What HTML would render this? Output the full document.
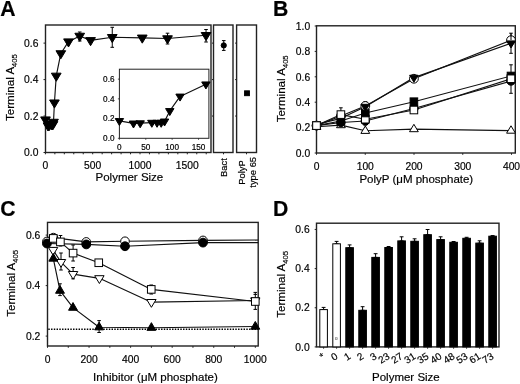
<!DOCTYPE html>
<html><head><meta charset="utf-8"><style>
html,body{margin:0;padding:0;background:#fff;}
svg{display:block;font-family:"Liberation Sans", sans-serif;filter:grayscale(1);}
text{stroke:#000;stroke-width:0.18px;paint-order:stroke;}
</style></head><body>
<svg width="520" height="384" viewBox="0 0 520 384">
<rect width="520" height="384" fill="#fff"/>
<text transform="translate(0.2,15.6) scale(1.03,1.05)" font-size="20.6" font-weight="bold" fill="#000">A</text>
<rect x="45.5" y="25" width="165.5" height="127.5" fill="none" stroke="#222" stroke-width="1.4"/>
<polyline fill="none" stroke="#111" stroke-width="1.15" stroke-linejoin="round" points="45.5,119.66 48,125.68 49.18,125.31 51.25,124.4 52.18,124.4 52.91,124.4 53.5,122.03 54.43,102.71 56.25,75.91 60.83,53.49 68.5,41.64 79.72,35.99 90.57,40.36 112.26,37.26 142.27,37.81 167.52,38.54 206.04,35.26"/>
<line x1="112.26" y1="27.3" x2="112.26" y2="47.3" stroke="#000" stroke-width="1" />
<line x1="110.46" y1="27.3" x2="114.06" y2="27.3" stroke="#000" stroke-width="1" />
<line x1="110.46" y1="47.3" x2="114.06" y2="47.3" stroke="#000" stroke-width="1" />
<line x1="167.52" y1="33.2" x2="167.52" y2="44" stroke="#000" stroke-width="1" />
<line x1="165.72" y1="33.2" x2="169.32" y2="33.2" stroke="#000" stroke-width="1" />
<line x1="165.72" y1="44" x2="169.32" y2="44" stroke="#000" stroke-width="1" />
<line x1="206.04" y1="29.5" x2="206.04" y2="42" stroke="#000" stroke-width="1" />
<line x1="204.24" y1="29.5" x2="207.84" y2="29.5" stroke="#000" stroke-width="1" />
<line x1="204.24" y1="42" x2="207.84" y2="42" stroke="#000" stroke-width="1" />
<line x1="79.72" y1="32" x2="79.72" y2="41" stroke="#000" stroke-width="1" />
<line x1="77.92" y1="32" x2="81.52" y2="32" stroke="#000" stroke-width="1" />
<line x1="77.92" y1="41" x2="81.52" y2="41" stroke="#000" stroke-width="1" />
<polygon points="40.65,116.91 50.35,116.91 45.5,125.01" fill="#000" stroke="#000" stroke-width="1" stroke-linejoin="round"/>
<polygon points="43.15,122.93 52.85,122.93 48,131.03" fill="#000" stroke="#000" stroke-width="1" stroke-linejoin="round"/>
<polygon points="44.33,122.56 54.03,122.56 49.18,130.66" fill="#000" stroke="#000" stroke-width="1" stroke-linejoin="round"/>
<polygon points="46.4,121.65 56.1,121.65 51.25,129.75" fill="#000" stroke="#000" stroke-width="1" stroke-linejoin="round"/>
<polygon points="47.33,121.65 57.03,121.65 52.18,129.75" fill="#000" stroke="#000" stroke-width="1" stroke-linejoin="round"/>
<polygon points="48.06,121.65 57.76,121.65 52.91,129.75" fill="#000" stroke="#000" stroke-width="1" stroke-linejoin="round"/>
<polygon points="48.65,119.28 58.35,119.28 53.5,127.38" fill="#000" stroke="#000" stroke-width="1" stroke-linejoin="round"/>
<polygon points="49.58,99.96 59.28,99.96 54.43,108.06" fill="#000" stroke="#000" stroke-width="1" stroke-linejoin="round"/>
<polygon points="51.4,73.16 61.1,73.16 56.25,81.26" fill="#000" stroke="#000" stroke-width="1" stroke-linejoin="round"/>
<polygon points="55.98,50.74 65.68,50.74 60.83,58.84" fill="#000" stroke="#000" stroke-width="1" stroke-linejoin="round"/>
<polygon points="63.65,38.89 73.35,38.89 68.5,46.99" fill="#000" stroke="#000" stroke-width="1" stroke-linejoin="round"/>
<polygon points="74.87,33.24 84.57,33.24 79.72,41.34" fill="#000" stroke="#000" stroke-width="1" stroke-linejoin="round"/>
<polygon points="85.72,37.61 95.42,37.61 90.57,45.71" fill="#000" stroke="#000" stroke-width="1" stroke-linejoin="round"/>
<polygon points="107.41,34.51 117.11,34.51 112.26,42.61" fill="#000" stroke="#000" stroke-width="1" stroke-linejoin="round"/>
<polygon points="137.42,35.06 147.12,35.06 142.27,43.16" fill="#000" stroke="#000" stroke-width="1" stroke-linejoin="round"/>
<polygon points="162.67,35.79 172.37,35.79 167.52,43.89" fill="#000" stroke="#000" stroke-width="1" stroke-linejoin="round"/>
<polygon points="201.19,32.51 210.89,32.51 206.04,40.61" fill="#000" stroke="#000" stroke-width="1" stroke-linejoin="round"/>
<line x1="43.5" y1="152.5" x2="45.5" y2="152.5" stroke="#222" stroke-width="1" />
<text x="38.4" y="156.2" font-size="10.3" text-anchor="end" font-weight="normal" fill="#000" >0.0</text>
<line x1="43.5" y1="116.04" x2="45.5" y2="116.04" stroke="#222" stroke-width="1" />
<text x="38.4" y="119.74" font-size="10.3" text-anchor="end" font-weight="normal" fill="#000" >0.2</text>
<line x1="43.5" y1="79.58" x2="45.5" y2="79.58" stroke="#222" stroke-width="1" />
<text x="38.4" y="83.28" font-size="10.3" text-anchor="end" font-weight="normal" fill="#000" >0.4</text>
<line x1="43.5" y1="43.12" x2="45.5" y2="43.12" stroke="#222" stroke-width="1" />
<text x="38.4" y="46.82" font-size="10.3" text-anchor="end" font-weight="normal" fill="#000" >0.6</text>
<line x1="45.4" y1="152.5" x2="45.4" y2="154.3" stroke="#222" stroke-width="1" />
<line x1="54.86" y1="152.5" x2="54.86" y2="154.3" stroke="#222" stroke-width="1" />
<line x1="64.32" y1="152.5" x2="64.32" y2="154.3" stroke="#222" stroke-width="1" />
<line x1="73.78" y1="152.5" x2="73.78" y2="154.3" stroke="#222" stroke-width="1" />
<line x1="83.24" y1="152.5" x2="83.24" y2="154.3" stroke="#222" stroke-width="1" />
<line x1="92.7" y1="152.5" x2="92.7" y2="154.3" stroke="#222" stroke-width="1" />
<line x1="102.16" y1="152.5" x2="102.16" y2="154.3" stroke="#222" stroke-width="1" />
<line x1="111.62" y1="152.5" x2="111.62" y2="154.3" stroke="#222" stroke-width="1" />
<line x1="121.08" y1="152.5" x2="121.08" y2="154.3" stroke="#222" stroke-width="1" />
<line x1="130.54" y1="152.5" x2="130.54" y2="154.3" stroke="#222" stroke-width="1" />
<line x1="140" y1="152.5" x2="140" y2="154.3" stroke="#222" stroke-width="1" />
<line x1="149.46" y1="152.5" x2="149.46" y2="154.3" stroke="#222" stroke-width="1" />
<line x1="158.92" y1="152.5" x2="158.92" y2="154.3" stroke="#222" stroke-width="1" />
<line x1="168.38" y1="152.5" x2="168.38" y2="154.3" stroke="#222" stroke-width="1" />
<line x1="177.84" y1="152.5" x2="177.84" y2="154.3" stroke="#222" stroke-width="1" />
<line x1="187.3" y1="152.5" x2="187.3" y2="154.3" stroke="#222" stroke-width="1" />
<line x1="196.76" y1="152.5" x2="196.76" y2="154.3" stroke="#222" stroke-width="1" />
<line x1="206.22" y1="152.5" x2="206.22" y2="154.3" stroke="#222" stroke-width="1" />
<text x="45.4" y="169.2" font-size="10.3" text-anchor="middle" font-weight="normal" fill="#000" >0</text>
<text x="92.7" y="169.2" font-size="10.3" text-anchor="middle" font-weight="normal" fill="#000" >500</text>
<text x="140" y="169.2" font-size="10.3" text-anchor="middle" font-weight="normal" fill="#000" >1000</text>
<text x="187.3" y="169.2" font-size="10.3" text-anchor="middle" font-weight="normal" fill="#000" >1500</text>
<text x="129.4" y="181.3" font-size="11.5" text-anchor="middle" font-weight="normal" fill="#000" >Polymer Size</text>
<text transform="translate(13.5,87.6) rotate(-90)" font-size="11.6" text-anchor="middle" fill="#000">Terminal A<tspan font-size="7.6" dy="3.4">405</tspan></text>
<rect x="119.4" y="69.2" width="89.5" height="69.1" fill="#fff" stroke="#222" stroke-width="1"/>
<polyline fill="none" stroke="#111" stroke-width="1.15" stroke-linejoin="round" points="119.4,120.88 133.48,123.35 140.18,123.15 151.84,122.66 157.06,122.66 161.18,122.66 164.55,121.37 169.78,110.92 180.06,96.43 205.91,84.3"/>
<polygon points="115.2,118.53 123.6,118.53 119.4,125.53" fill="#000" stroke="#000" stroke-width="1" stroke-linejoin="round"/>
<polygon points="129.28,121 137.68,121 133.48,128" fill="#000" stroke="#000" stroke-width="1" stroke-linejoin="round"/>
<polygon points="135.98,120.8 144.38,120.8 140.18,127.8" fill="#000" stroke="#000" stroke-width="1" stroke-linejoin="round"/>
<polygon points="147.64,120.31 156.04,120.31 151.84,127.31" fill="#000" stroke="#000" stroke-width="1" stroke-linejoin="round"/>
<polygon points="152.86,120.31 161.26,120.31 157.06,127.31" fill="#000" stroke="#000" stroke-width="1" stroke-linejoin="round"/>
<polygon points="156.98,120.31 165.38,120.31 161.18,127.31" fill="#000" stroke="#000" stroke-width="1" stroke-linejoin="round"/>
<polygon points="160.35,119.02 168.75,119.02 164.55,126.02" fill="#000" stroke="#000" stroke-width="1" stroke-linejoin="round"/>
<polygon points="165.58,108.57 173.98,108.57 169.78,115.57" fill="#000" stroke="#000" stroke-width="1" stroke-linejoin="round"/>
<polygon points="175.86,94.08 184.26,94.08 180.06,101.08" fill="#000" stroke="#000" stroke-width="1" stroke-linejoin="round"/>
<polygon points="201.71,81.95 210.11,81.95 205.91,88.95" fill="#000" stroke="#000" stroke-width="1" stroke-linejoin="round"/>
<line x1="117.9" y1="138.3" x2="119.4" y2="138.3" stroke="#222" stroke-width="0.8" />
<text x="114.5" y="141.2" font-size="8.2" text-anchor="end" font-weight="normal" fill="#000" >0.0</text>
<line x1="117.9" y1="118.58" x2="119.4" y2="118.58" stroke="#222" stroke-width="0.8" />
<text x="114.5" y="121.48" font-size="8.2" text-anchor="end" font-weight="normal" fill="#000" >0.2</text>
<line x1="117.9" y1="98.86" x2="119.4" y2="98.86" stroke="#222" stroke-width="0.8" />
<text x="114.5" y="101.76" font-size="8.2" text-anchor="end" font-weight="normal" fill="#000" >0.4</text>
<line x1="117.9" y1="79.14" x2="119.4" y2="79.14" stroke="#222" stroke-width="0.8" />
<text x="114.5" y="82.04" font-size="8.2" text-anchor="end" font-weight="normal" fill="#000" >0.6</text>
<line x1="119.4" y1="138.3" x2="119.4" y2="139.8" stroke="#222" stroke-width="0.8" />
<text x="119.4" y="150.2" font-size="8.2" text-anchor="middle" font-weight="normal" fill="#000" >0</text>
<line x1="145.78" y1="138.3" x2="145.78" y2="139.8" stroke="#222" stroke-width="0.8" />
<text x="145.78" y="150.2" font-size="8.2" text-anchor="middle" font-weight="normal" fill="#000" >50</text>
<line x1="172.15" y1="138.3" x2="172.15" y2="139.8" stroke="#222" stroke-width="0.8" />
<text x="172.15" y="150.2" font-size="8.2" text-anchor="middle" font-weight="normal" fill="#000" >100</text>
<line x1="198.53" y1="138.3" x2="198.53" y2="139.8" stroke="#222" stroke-width="0.8" />
<text x="198.53" y="150.2" font-size="8.2" text-anchor="middle" font-weight="normal" fill="#000" >150</text>
<rect x="213.5" y="25" width="19.5" height="127.5" fill="none" stroke="#222" stroke-width="1.4"/>
<rect x="236.6" y="25" width="19.9" height="127.5" fill="none" stroke="#222" stroke-width="1.4"/>
<line x1="212" y1="116.04" x2="213.5" y2="116.04" stroke="#222" stroke-width="1" />
<line x1="235.1" y1="116.04" x2="236.6" y2="116.04" stroke="#222" stroke-width="1" />
<line x1="212" y1="79.58" x2="213.5" y2="79.58" stroke="#222" stroke-width="1" />
<line x1="235.1" y1="79.58" x2="236.6" y2="79.58" stroke="#222" stroke-width="1" />
<line x1="212" y1="43.12" x2="213.5" y2="43.12" stroke="#222" stroke-width="1" />
<line x1="235.1" y1="43.12" x2="236.6" y2="43.12" stroke="#222" stroke-width="1" />
<line x1="223.5" y1="152.5" x2="223.5" y2="154.3" stroke="#222" stroke-width="1" />
<line x1="246.5" y1="152.5" x2="246.5" y2="154.3" stroke="#222" stroke-width="1" />
<line x1="223.75" y1="40.6" x2="223.75" y2="50.4" stroke="#000" stroke-width="1" />
<line x1="221.95" y1="40.6" x2="225.55" y2="40.6" stroke="#000" stroke-width="1" />
<line x1="221.95" y1="50.4" x2="225.55" y2="50.4" stroke="#000" stroke-width="1" />
<circle cx="223.75" cy="45.4" r="2.6" fill="#000" stroke="#000" stroke-width="1"/>
<rect x="244.6" y="90.85" width="4.8" height="4.8" fill="#000" stroke="#000" stroke-width="1"/>
<text transform="translate(227.2,158.2) rotate(-90)" font-size="9.4" text-anchor="end" fill="#000">Bact</text>
<text transform="translate(245.3,172.5) rotate(-90)" font-size="9.4" text-anchor="middle" fill="#000">PolyP</text>
<text transform="translate(255.9,172.3) rotate(-90)" font-size="9.4" text-anchor="middle" fill="#000">type 65</text>
<text transform="translate(272.9,15.6) scale(1.03,1.05)" font-size="20.6" font-weight="bold" fill="#000">B</text>
<rect x="316.5" y="25.8" width="198.8" height="127.2" fill="none" stroke="#222" stroke-width="1.4"/>
<line x1="314.7" y1="153" x2="316.5" y2="153" stroke="#222" stroke-width="1" />
<line x1="314.7" y1="127.6" x2="316.5" y2="127.6" stroke="#222" stroke-width="1" />
<line x1="314.7" y1="102.2" x2="316.5" y2="102.2" stroke="#222" stroke-width="1" />
<line x1="314.7" y1="76.8" x2="316.5" y2="76.8" stroke="#222" stroke-width="1" />
<line x1="314.7" y1="51.4" x2="316.5" y2="51.4" stroke="#222" stroke-width="1" />
<line x1="314.7" y1="26" x2="316.5" y2="26" stroke="#222" stroke-width="1" />
<polyline fill="none" stroke="#111" stroke-width="1.15" stroke-linejoin="round" points="316.5,126.7 340.9,125.1 365.3,130.8 413.9,129.1 511,130.6"/>
<polyline fill="none" stroke="#111" stroke-width="1.15" stroke-linejoin="round" points="316.5,125.6 340.9,122.5 365.3,121 413.9,108.5 511,81"/>
<polyline fill="none" stroke="#111" stroke-width="1.15" stroke-linejoin="round" points="316.5,125.6 340.9,114.6 365.3,119.2 413.9,110 511,78.75"/>
<polyline fill="none" stroke="#111" stroke-width="1.15" stroke-linejoin="round" points="316.5,125.6 340.9,121 365.3,113 413.9,101.7 511,76"/>
<polyline fill="none" stroke="#111" stroke-width="1.15" stroke-linejoin="round" points="316.5,124.45 340.9,118.35 365.3,106.65 413.9,77.6 511,43.25"/>
<polyline fill="none" stroke="#111" stroke-width="1.15" stroke-linejoin="round" points="316.5,125.6 340.9,116 365.3,106 413.9,78.75 511,40.2"/>
<line x1="340.9" y1="107.8" x2="340.9" y2="126.3" stroke="#000" stroke-width="1" />
<line x1="339.1" y1="107.8" x2="342.7" y2="107.8" stroke="#000" stroke-width="1" />
<line x1="339.1" y1="126.3" x2="342.7" y2="126.3" stroke="#000" stroke-width="1" />
<line x1="511" y1="33.2" x2="511" y2="53.3" stroke="#000" stroke-width="1" />
<line x1="509.2" y1="33.2" x2="512.8" y2="33.2" stroke="#000" stroke-width="1" />
<line x1="509.2" y1="53.3" x2="512.8" y2="53.3" stroke="#000" stroke-width="1" />
<line x1="511" y1="64.8" x2="511" y2="93.3" stroke="#000" stroke-width="1" />
<line x1="509.2" y1="64.8" x2="512.8" y2="64.8" stroke="#000" stroke-width="1" />
<line x1="509.2" y1="93.3" x2="512.8" y2="93.3" stroke="#000" stroke-width="1" />
<line x1="365.3" y1="101.6" x2="365.3" y2="125" stroke="#000" stroke-width="1" />
<line x1="363.5" y1="101.6" x2="367.1" y2="101.6" stroke="#000" stroke-width="1" />
<line x1="363.5" y1="125" x2="367.1" y2="125" stroke="#000" stroke-width="1" />
<polygon points="312.1,129.3 320.9,129.3 316.5,121.9" fill="#fff" stroke="#000" stroke-width="1" stroke-linejoin="round"/>
<circle cx="316.5" cy="125.6" r="4.2" fill="#000" stroke="#000" stroke-width="1"/>
<rect x="312.7" y="121.8" width="7.6" height="7.6" fill="#000" stroke="#000" stroke-width="1"/>
<polygon points="312.2,122.1 320.8,122.1 316.5,129.1" fill="#000" stroke="#000" stroke-width="1" stroke-linejoin="round"/>
<circle cx="316.5" cy="125.6" r="4.4" fill="#fff" stroke="#000" stroke-width="1"/>
<rect x="312.7" y="121.8" width="7.6" height="7.6" fill="#fff" stroke="#000" stroke-width="1"/>
<polygon points="336.5,127.7 345.3,127.7 340.9,120.3" fill="#fff" stroke="#000" stroke-width="1" stroke-linejoin="round"/>
<circle cx="340.9" cy="116" r="4.4" fill="#fff" stroke="#000" stroke-width="1"/>
<circle cx="340.9" cy="122.5" r="4.2" fill="#000" stroke="#000" stroke-width="1"/>
<polygon points="336.6,116 345.2,116 340.9,123" fill="#000" stroke="#000" stroke-width="1" stroke-linejoin="round"/>
<rect x="337.1" y="117.2" width="7.6" height="7.6" fill="#000" stroke="#000" stroke-width="1"/>
<rect x="337.1" y="110.8" width="7.6" height="7.6" fill="#fff" stroke="#000" stroke-width="1"/>
<circle cx="365.3" cy="121" r="4.2" fill="#000" stroke="#000" stroke-width="1"/>
<rect x="361.5" y="115.4" width="7.6" height="7.6" fill="#fff" stroke="#000" stroke-width="1"/>
<rect x="361.5" y="109.2" width="7.6" height="7.6" fill="#000" stroke="#000" stroke-width="1"/>
<circle cx="365.3" cy="106" r="4.4" fill="#fff" stroke="#000" stroke-width="1"/>
<polygon points="361,104.3 369.6,104.3 365.3,111.3" fill="#000" stroke="#000" stroke-width="1" stroke-linejoin="round"/>
<polygon points="360.9,133.4 369.7,133.4 365.3,126" fill="#fff" stroke="#000" stroke-width="1" stroke-linejoin="round"/>
<circle cx="413.9" cy="108.5" r="4.2" fill="#000" stroke="#000" stroke-width="1"/>
<rect x="410.1" y="106.2" width="7.6" height="7.6" fill="#fff" stroke="#000" stroke-width="1"/>
<rect x="410.1" y="97.9" width="7.6" height="7.6" fill="#000" stroke="#000" stroke-width="1"/>
<circle cx="413.9" cy="78.75" r="4.4" fill="#fff" stroke="#000" stroke-width="1"/>
<polygon points="409.6,75.25 418.2,75.25 413.9,82.25" fill="#000" stroke="#000" stroke-width="1" stroke-linejoin="round"/>
<polygon points="409.5,131.7 418.3,131.7 413.9,124.3" fill="#fff" stroke="#000" stroke-width="1" stroke-linejoin="round"/>
<circle cx="511" cy="81" r="4.2" fill="#000" stroke="#000" stroke-width="1"/>
<rect x="507.2" y="74.95" width="7.6" height="7.6" fill="#fff" stroke="#000" stroke-width="1"/>
<rect x="507.2" y="72.2" width="7.6" height="7.6" fill="#000" stroke="#000" stroke-width="1"/>
<circle cx="511" cy="40.2" r="4.4" fill="#fff" stroke="#000" stroke-width="1"/>
<polygon points="506.7,40.9 515.3,40.9 511,47.9" fill="#000" stroke="#000" stroke-width="1" stroke-linejoin="round"/>
<polygon points="506.6,133.2 515.4,133.2 511,125.8" fill="#fff" stroke="#000" stroke-width="1" stroke-linejoin="round"/>
<rect x="507.2" y="74.95" width="7.6" height="7.6" fill="#fff" stroke="#000" stroke-width="1"/>
<line x1="511" y1="33.2" x2="511" y2="40" stroke="#000" stroke-width="1" />
<text x="310.2" y="156.7" font-size="10.3" text-anchor="end" font-weight="normal" fill="#000" >0.0</text>
<text x="310.2" y="131.3" font-size="10.3" text-anchor="end" font-weight="normal" fill="#000" >0.2</text>
<text x="310.2" y="105.9" font-size="10.3" text-anchor="end" font-weight="normal" fill="#000" >0.4</text>
<text x="310.2" y="80.5" font-size="10.3" text-anchor="end" font-weight="normal" fill="#000" >0.6</text>
<text x="310.2" y="55.1" font-size="10.3" text-anchor="end" font-weight="normal" fill="#000" >0.8</text>
<text x="310.2" y="29.7" font-size="10.3" text-anchor="end" font-weight="normal" fill="#000" >1.0</text>
<line x1="316.5" y1="153" x2="316.5" y2="154.8" stroke="#222" stroke-width="1" />
<text x="316.5" y="169.6" font-size="10.3" text-anchor="middle" font-weight="normal" fill="#000" >0</text>
<line x1="365.25" y1="153" x2="365.25" y2="154.8" stroke="#222" stroke-width="1" />
<text x="365.25" y="169.6" font-size="10.3" text-anchor="middle" font-weight="normal" fill="#000" >100</text>
<line x1="414" y1="153" x2="414" y2="154.8" stroke="#222" stroke-width="1" />
<text x="414" y="169.6" font-size="10.3" text-anchor="middle" font-weight="normal" fill="#000" >200</text>
<line x1="462.75" y1="153" x2="462.75" y2="154.8" stroke="#222" stroke-width="1" />
<text x="462.75" y="169.6" font-size="10.3" text-anchor="middle" font-weight="normal" fill="#000" >300</text>
<line x1="511.5" y1="153" x2="511.5" y2="154.8" stroke="#222" stroke-width="1" />
<text x="511.5" y="169.6" font-size="10.3" text-anchor="middle" font-weight="normal" fill="#000" >400</text>
<text x="416.3" y="183.3" font-size="11.5" text-anchor="middle" font-weight="normal" fill="#000" >PolyP (&#956;M phosphate)</text>
<text transform="translate(285,88.8) rotate(-90)" font-size="11.6" text-anchor="middle" fill="#000">Terminal A<tspan font-size="7.6" dy="3.4">405</tspan></text>
<text transform="translate(0.2,216.3) scale(1.03,1.05)" font-size="20.6" font-weight="bold" fill="#000">C</text>
<rect x="47.5" y="222.4" width="210.7" height="123.6" fill="none" stroke="#222" stroke-width="1.4"/>
<line x1="48.3" y1="329.2" x2="258.2" y2="329.2" stroke="#000" stroke-width="1.6" stroke-dasharray="1.45,1.3"/>
<clipPath id="cclip"><rect x="47.5" y="222.4" width="210.7" height="123.6"/></clipPath>
<g clip-path="url(#cclip)">
<polyline fill="none" stroke="#111" stroke-width="1.15" stroke-linejoin="round" points="46.9,241.5 53.3,237.6 86.25,241.9 125,241.25 203,240.4 262,240"/>
<polyline fill="none" stroke="#111" stroke-width="1.15" stroke-linejoin="round" points="46.9,243.5 86.25,244.4 125,246.25 203,242.6 262,242.6"/>
<polyline fill="none" stroke="#111" stroke-width="1.15" stroke-linejoin="round" points="53.3,238.4 60.4,241.9 73.1,253.1 98.75,262.75 151.25,289.4 255.3,301.5"/>
<polyline fill="none" stroke="#111" stroke-width="1.15" stroke-linejoin="round" points="53.1,250.05 61,262.15 73.1,274.15 99.4,278.35 151.4,302.15 255.3,300.55"/>
<polyline fill="none" stroke="#111" stroke-width="1.15" stroke-linejoin="round" points="53.3,258.55 60,290.65 73,307.65 99.1,327.25 151.4,327.75 255.3,326.55"/>
</g>
<line x1="60.5" y1="235.5" x2="60.5" y2="246" stroke="#000" stroke-width="1" />
<line x1="58.7" y1="235.5" x2="62.3" y2="235.5" stroke="#000" stroke-width="1" />
<line x1="58.7" y1="246" x2="62.3" y2="246" stroke="#000" stroke-width="1" />
<line x1="61" y1="253" x2="61" y2="270" stroke="#000" stroke-width="1" />
<line x1="59.2" y1="253" x2="62.8" y2="253" stroke="#000" stroke-width="1" />
<line x1="59.2" y1="270" x2="62.8" y2="270" stroke="#000" stroke-width="1" />
<line x1="73.1" y1="245" x2="73.1" y2="261" stroke="#000" stroke-width="1" />
<line x1="71.3" y1="245" x2="74.9" y2="245" stroke="#000" stroke-width="1" />
<line x1="71.3" y1="261" x2="74.9" y2="261" stroke="#000" stroke-width="1" />
<line x1="73.1" y1="267.5" x2="73.1" y2="278.8" stroke="#000" stroke-width="1" />
<line x1="71.3" y1="267.5" x2="74.9" y2="267.5" stroke="#000" stroke-width="1" />
<line x1="71.3" y1="278.8" x2="74.9" y2="278.8" stroke="#000" stroke-width="1" />
<line x1="60" y1="283.8" x2="60" y2="295.6" stroke="#000" stroke-width="1" />
<line x1="58.2" y1="283.8" x2="61.8" y2="283.8" stroke="#000" stroke-width="1" />
<line x1="58.2" y1="295.6" x2="61.8" y2="295.6" stroke="#000" stroke-width="1" />
<line x1="99.1" y1="320.6" x2="99.1" y2="332.5" stroke="#000" stroke-width="1" />
<line x1="97.3" y1="320.6" x2="100.9" y2="320.6" stroke="#000" stroke-width="1" />
<line x1="97.3" y1="332.5" x2="100.9" y2="332.5" stroke="#000" stroke-width="1" />
<line x1="151.25" y1="285" x2="151.25" y2="294" stroke="#000" stroke-width="1" />
<line x1="149.45" y1="285" x2="153.05" y2="285" stroke="#000" stroke-width="1" />
<line x1="149.45" y1="294" x2="153.05" y2="294" stroke="#000" stroke-width="1" />
<line x1="255.3" y1="292.4" x2="255.3" y2="309.4" stroke="#000" stroke-width="1" />
<line x1="253.5" y1="292.4" x2="257.1" y2="292.4" stroke="#000" stroke-width="1" />
<line x1="253.5" y1="309.4" x2="257.1" y2="309.4" stroke="#000" stroke-width="1" />
<line x1="253.5" y1="294.4" x2="257.1" y2="294.4" stroke="#000" stroke-width="1" />
<line x1="53.7" y1="247.7" x2="53.7" y2="252.8" stroke="#000" stroke-width="1" />
<line x1="51.9" y1="247.7" x2="55.5" y2="247.7" stroke="#000" stroke-width="1" />
<line x1="51.9" y1="252.8" x2="55.5" y2="252.8" stroke="#000" stroke-width="1" />
<circle cx="46.9" cy="241.5" r="4.3" fill="#fff" stroke="#000" stroke-width="1"/>
<circle cx="53.3" cy="237.6" r="4.3" fill="#fff" stroke="#000" stroke-width="1"/>
<circle cx="86.25" cy="241.9" r="4.3" fill="#fff" stroke="#000" stroke-width="1"/>
<circle cx="125" cy="241.25" r="4.3" fill="#fff" stroke="#000" stroke-width="1"/>
<circle cx="203" cy="240.4" r="4.3" fill="#fff" stroke="#000" stroke-width="1"/>
<circle cx="46.9" cy="243.5" r="4.4" fill="#000" stroke="#000" stroke-width="1"/>
<circle cx="86.25" cy="244.4" r="4.4" fill="#000" stroke="#000" stroke-width="1"/>
<circle cx="125" cy="246.25" r="4.4" fill="#000" stroke="#000" stroke-width="1"/>
<circle cx="203" cy="242.6" r="4.4" fill="#000" stroke="#000" stroke-width="1"/>
<polygon points="48.4,247.4 57.8,247.4 53.1,255.2" fill="#fff" stroke="#000" stroke-width="1" stroke-linejoin="round"/>
<polygon points="56.3,259.5 65.7,259.5 61,267.3" fill="#fff" stroke="#000" stroke-width="1" stroke-linejoin="round"/>
<polygon points="68.4,271.5 77.8,271.5 73.1,279.3" fill="#fff" stroke="#000" stroke-width="1" stroke-linejoin="round"/>
<polygon points="94.7,275.7 104.1,275.7 99.4,283.5" fill="#fff" stroke="#000" stroke-width="1" stroke-linejoin="round"/>
<polygon points="146.7,299.5 156.1,299.5 151.4,307.3" fill="#fff" stroke="#000" stroke-width="1" stroke-linejoin="round"/>
<polygon points="250.6,297.9 260,297.9 255.3,305.7" fill="#fff" stroke="#000" stroke-width="1" stroke-linejoin="round"/>
<rect x="49.5" y="234.6" width="7.6" height="7.6" fill="#fff" stroke="#000" stroke-width="1"/>
<rect x="56.6" y="238.1" width="7.6" height="7.6" fill="#fff" stroke="#000" stroke-width="1"/>
<rect x="69.3" y="249.3" width="7.6" height="7.6" fill="#fff" stroke="#000" stroke-width="1"/>
<rect x="94.95" y="258.95" width="7.6" height="7.6" fill="#fff" stroke="#000" stroke-width="1"/>
<rect x="147.45" y="285.6" width="7.6" height="7.6" fill="#fff" stroke="#000" stroke-width="1"/>
<rect x="251.5" y="297.7" width="7.6" height="7.6" fill="#fff" stroke="#000" stroke-width="1"/>
<polygon points="48.85,261.15 57.75,261.15 53.3,253.45" fill="#000" stroke="#000" stroke-width="1" stroke-linejoin="round"/>
<polygon points="55.55,293.25 64.45,293.25 60,285.55" fill="#000" stroke="#000" stroke-width="1" stroke-linejoin="round"/>
<polygon points="68.55,310.25 77.45,310.25 73,302.55" fill="#000" stroke="#000" stroke-width="1" stroke-linejoin="round"/>
<polygon points="94.65,329.85 103.55,329.85 99.1,322.15" fill="#000" stroke="#000" stroke-width="1" stroke-linejoin="round"/>
<polygon points="146.95,330.35 155.85,330.35 151.4,322.65" fill="#000" stroke="#000" stroke-width="1" stroke-linejoin="round"/>
<polygon points="250.85,329.15 259.75,329.15 255.3,321.45" fill="#000" stroke="#000" stroke-width="1" stroke-linejoin="round"/>
<line x1="45.7" y1="336.1" x2="47.5" y2="336.1" stroke="#222" stroke-width="1" />
<text x="40.3" y="339.8" font-size="10.3" text-anchor="end" font-weight="normal" fill="#000" >0.2</text>
<line x1="45.7" y1="285.6" x2="47.5" y2="285.6" stroke="#222" stroke-width="1" />
<text x="40.3" y="289.3" font-size="10.3" text-anchor="end" font-weight="normal" fill="#000" >0.4</text>
<line x1="45.7" y1="235.1" x2="47.5" y2="235.1" stroke="#222" stroke-width="1" />
<text x="40.3" y="238.8" font-size="10.3" text-anchor="end" font-weight="normal" fill="#000" >0.6</text>
<line x1="47.5" y1="346" x2="47.5" y2="347.8" stroke="#222" stroke-width="1" />
<line x1="68.28" y1="346" x2="68.28" y2="347.8" stroke="#222" stroke-width="1" />
<line x1="89.06" y1="346" x2="89.06" y2="347.8" stroke="#222" stroke-width="1" />
<line x1="109.84" y1="346" x2="109.84" y2="347.8" stroke="#222" stroke-width="1" />
<line x1="130.62" y1="346" x2="130.62" y2="347.8" stroke="#222" stroke-width="1" />
<line x1="151.4" y1="346" x2="151.4" y2="347.8" stroke="#222" stroke-width="1" />
<line x1="172.18" y1="346" x2="172.18" y2="347.8" stroke="#222" stroke-width="1" />
<line x1="192.96" y1="346" x2="192.96" y2="347.8" stroke="#222" stroke-width="1" />
<line x1="213.74" y1="346" x2="213.74" y2="347.8" stroke="#222" stroke-width="1" />
<line x1="234.52" y1="346" x2="234.52" y2="347.8" stroke="#222" stroke-width="1" />
<line x1="255.3" y1="346" x2="255.3" y2="347.8" stroke="#222" stroke-width="1" />
<text x="47.5" y="362.6" font-size="10.3" text-anchor="middle" font-weight="normal" fill="#000" >0</text>
<text x="89.06" y="362.6" font-size="10.3" text-anchor="middle" font-weight="normal" fill="#000" >200</text>
<text x="130.62" y="362.6" font-size="10.3" text-anchor="middle" font-weight="normal" fill="#000" >400</text>
<text x="172.18" y="362.6" font-size="10.3" text-anchor="middle" font-weight="normal" fill="#000" >600</text>
<text x="213.74" y="362.6" font-size="10.3" text-anchor="middle" font-weight="normal" fill="#000" >800</text>
<text x="255.3" y="362.6" font-size="10.3" text-anchor="middle" font-weight="normal" fill="#000" >1000</text>
<text x="155.4" y="380.6" font-size="11.5" text-anchor="middle" font-weight="normal" fill="#000" >Inhibitor (&#956;M phosphate)</text>
<text transform="translate(14.6,283.4) rotate(-90)" font-size="11.6" text-anchor="middle" fill="#000">Terminal A<tspan font-size="7.6" dy="3.4">405</tspan></text>
<text transform="translate(272.9,215.8) scale(1.03,1.05)" font-size="20.6" font-weight="bold" fill="#000">D</text>
<rect x="316.5" y="223.2" width="182.5" height="123.7" fill="none" stroke="#222" stroke-width="1.4"/>
<line x1="323.6" y1="307.4" x2="323.6" y2="309.6" stroke="#000" stroke-width="1" />
<line x1="321.68" y1="307.4" x2="325.52" y2="307.4" stroke="#000" stroke-width="1" />
<line x1="321.68" y1="309.6" x2="325.52" y2="309.6" stroke="#000" stroke-width="1" />
<rect x="319.8" y="309.6" width="7.6" height="37.3" fill="#fff" stroke="#000" stroke-width="1"/>
<line x1="323.6" y1="346.9" x2="323.6" y2="348.7" stroke="#222" stroke-width="1" />
<text transform="translate(321.7,352) rotate(-32)" font-size="10" text-anchor="end" fill="#000" dominant-baseline="hanging">*</text>
<line x1="336.6" y1="241.4" x2="336.6" y2="243.8" stroke="#000" stroke-width="1" />
<line x1="334.68" y1="241.4" x2="338.52" y2="241.4" stroke="#000" stroke-width="1" />
<line x1="334.68" y1="243.8" x2="338.52" y2="243.8" stroke="#000" stroke-width="1" />
<rect x="332.8" y="243.8" width="7.6" height="103.1" fill="#fff" stroke="#000" stroke-width="1"/>
<line x1="336.6" y1="346.9" x2="336.6" y2="348.7" stroke="#222" stroke-width="1" />
<text transform="translate(334.7,352) rotate(-32)" font-size="10" text-anchor="end" fill="#000" dominant-baseline="hanging">0</text>
<line x1="349.6" y1="244.9" x2="349.6" y2="247.7" stroke="#000" stroke-width="1" />
<line x1="347.68" y1="244.9" x2="351.52" y2="244.9" stroke="#000" stroke-width="1" />
<line x1="347.68" y1="247.7" x2="351.52" y2="247.7" stroke="#000" stroke-width="1" />
<rect x="345.8" y="247.7" width="7.6" height="99.2" fill="#000" stroke="#000" stroke-width="1"/>
<line x1="349.6" y1="346.9" x2="349.6" y2="348.7" stroke="#222" stroke-width="1" />
<text transform="translate(347.7,352) rotate(-32)" font-size="10" text-anchor="end" fill="#000" dominant-baseline="hanging">1</text>
<line x1="362.6" y1="306.7" x2="362.6" y2="310.3" stroke="#000" stroke-width="1" />
<line x1="360.68" y1="306.7" x2="364.52" y2="306.7" stroke="#000" stroke-width="1" />
<line x1="360.68" y1="310.3" x2="364.52" y2="310.3" stroke="#000" stroke-width="1" />
<rect x="358.8" y="310.3" width="7.6" height="36.6" fill="#000" stroke="#000" stroke-width="1"/>
<line x1="362.6" y1="346.9" x2="362.6" y2="348.7" stroke="#222" stroke-width="1" />
<text transform="translate(360.7,352) rotate(-32)" font-size="10" text-anchor="end" fill="#000" dominant-baseline="hanging">2</text>
<line x1="375.6" y1="253.7" x2="375.6" y2="257.4" stroke="#000" stroke-width="1" />
<line x1="373.68" y1="253.7" x2="377.52" y2="253.7" stroke="#000" stroke-width="1" />
<line x1="373.68" y1="257.4" x2="377.52" y2="257.4" stroke="#000" stroke-width="1" />
<rect x="371.8" y="257.4" width="7.6" height="89.5" fill="#000" stroke="#000" stroke-width="1"/>
<line x1="375.6" y1="346.9" x2="375.6" y2="348.7" stroke="#222" stroke-width="1" />
<text transform="translate(373.7,352) rotate(-32)" font-size="10" text-anchor="end" fill="#000" dominant-baseline="hanging">3</text>
<line x1="388.6" y1="246.5" x2="388.6" y2="247.5" stroke="#000" stroke-width="1" />
<line x1="386.68" y1="246.5" x2="390.52" y2="246.5" stroke="#000" stroke-width="1" />
<line x1="386.68" y1="247.5" x2="390.52" y2="247.5" stroke="#000" stroke-width="1" />
<rect x="384.8" y="247.5" width="7.6" height="99.4" fill="#000" stroke="#000" stroke-width="1"/>
<line x1="388.6" y1="346.9" x2="388.6" y2="348.7" stroke="#222" stroke-width="1" />
<text transform="translate(386.7,352) rotate(-32)" font-size="10" text-anchor="end" fill="#000" dominant-baseline="hanging">23</text>
<line x1="401.6" y1="236.8" x2="401.6" y2="240.9" stroke="#000" stroke-width="1" />
<line x1="399.68" y1="236.8" x2="403.52" y2="236.8" stroke="#000" stroke-width="1" />
<line x1="399.68" y1="240.9" x2="403.52" y2="240.9" stroke="#000" stroke-width="1" />
<rect x="397.8" y="240.9" width="7.6" height="106" fill="#000" stroke="#000" stroke-width="1"/>
<line x1="401.6" y1="346.9" x2="401.6" y2="348.7" stroke="#222" stroke-width="1" />
<text transform="translate(399.7,352) rotate(-32)" font-size="10" text-anchor="end" fill="#000" dominant-baseline="hanging">27</text>
<line x1="414.6" y1="238.8" x2="414.6" y2="241.3" stroke="#000" stroke-width="1" />
<line x1="412.68" y1="238.8" x2="416.52" y2="238.8" stroke="#000" stroke-width="1" />
<line x1="412.68" y1="241.3" x2="416.52" y2="241.3" stroke="#000" stroke-width="1" />
<rect x="410.8" y="241.3" width="7.6" height="105.6" fill="#000" stroke="#000" stroke-width="1"/>
<line x1="414.6" y1="346.9" x2="414.6" y2="348.7" stroke="#222" stroke-width="1" />
<text transform="translate(412.7,352) rotate(-32)" font-size="10" text-anchor="end" fill="#000" dominant-baseline="hanging">31</text>
<line x1="427.6" y1="229.5" x2="427.6" y2="234.7" stroke="#000" stroke-width="1" />
<line x1="425.68" y1="229.5" x2="429.52" y2="229.5" stroke="#000" stroke-width="1" />
<line x1="425.68" y1="234.7" x2="429.52" y2="234.7" stroke="#000" stroke-width="1" />
<rect x="423.8" y="234.7" width="7.6" height="112.2" fill="#000" stroke="#000" stroke-width="1"/>
<line x1="427.6" y1="346.9" x2="427.6" y2="348.7" stroke="#222" stroke-width="1" />
<text transform="translate(425.7,352) rotate(-32)" font-size="10" text-anchor="end" fill="#000" dominant-baseline="hanging">35</text>
<line x1="440.6" y1="236.8" x2="440.6" y2="239.6" stroke="#000" stroke-width="1" />
<line x1="438.68" y1="236.8" x2="442.52" y2="236.8" stroke="#000" stroke-width="1" />
<line x1="438.68" y1="239.6" x2="442.52" y2="239.6" stroke="#000" stroke-width="1" />
<rect x="436.8" y="239.6" width="7.6" height="107.3" fill="#000" stroke="#000" stroke-width="1"/>
<line x1="440.6" y1="346.9" x2="440.6" y2="348.7" stroke="#222" stroke-width="1" />
<text transform="translate(438.7,352) rotate(-32)" font-size="10" text-anchor="end" fill="#000" dominant-baseline="hanging">40</text>
<line x1="453.6" y1="241.5" x2="453.6" y2="242.3" stroke="#000" stroke-width="1" />
<line x1="451.68" y1="241.5" x2="455.52" y2="241.5" stroke="#000" stroke-width="1" />
<line x1="451.68" y1="242.3" x2="455.52" y2="242.3" stroke="#000" stroke-width="1" />
<rect x="449.8" y="242.3" width="7.6" height="104.6" fill="#000" stroke="#000" stroke-width="1"/>
<line x1="453.6" y1="346.9" x2="453.6" y2="348.7" stroke="#222" stroke-width="1" />
<text transform="translate(451.7,352) rotate(-32)" font-size="10" text-anchor="end" fill="#000" dominant-baseline="hanging">48</text>
<line x1="466.6" y1="237.3" x2="466.6" y2="238.3" stroke="#000" stroke-width="1" />
<line x1="464.68" y1="237.3" x2="468.52" y2="237.3" stroke="#000" stroke-width="1" />
<line x1="464.68" y1="238.3" x2="468.52" y2="238.3" stroke="#000" stroke-width="1" />
<rect x="462.8" y="238.3" width="7.6" height="108.6" fill="#000" stroke="#000" stroke-width="1"/>
<line x1="466.6" y1="346.9" x2="466.6" y2="348.7" stroke="#222" stroke-width="1" />
<text transform="translate(464.7,352) rotate(-32)" font-size="10" text-anchor="end" fill="#000" dominant-baseline="hanging">53</text>
<line x1="479.6" y1="240.8" x2="479.6" y2="243.1" stroke="#000" stroke-width="1" />
<line x1="477.68" y1="240.8" x2="481.52" y2="240.8" stroke="#000" stroke-width="1" />
<line x1="477.68" y1="243.1" x2="481.52" y2="243.1" stroke="#000" stroke-width="1" />
<rect x="475.8" y="243.1" width="7.6" height="103.8" fill="#000" stroke="#000" stroke-width="1"/>
<line x1="479.6" y1="346.9" x2="479.6" y2="348.7" stroke="#222" stroke-width="1" />
<text transform="translate(477.7,352) rotate(-32)" font-size="10" text-anchor="end" fill="#000" dominant-baseline="hanging">61</text>
<line x1="492.6" y1="235.6" x2="492.6" y2="236.2" stroke="#000" stroke-width="1" />
<line x1="490.68" y1="235.6" x2="494.52" y2="235.6" stroke="#000" stroke-width="1" />
<line x1="490.68" y1="236.2" x2="494.52" y2="236.2" stroke="#000" stroke-width="1" />
<rect x="488.8" y="236.2" width="7.6" height="110.7" fill="#000" stroke="#000" stroke-width="1"/>
<line x1="492.6" y1="346.9" x2="492.6" y2="348.7" stroke="#222" stroke-width="1" />
<text transform="translate(490.7,352) rotate(-32)" font-size="10" text-anchor="end" fill="#000" dominant-baseline="hanging">73</text>
<text x="336.3" y="340" font-size="4" text-anchor="middle" font-weight="normal" fill="#999" >0</text>
<line x1="314.7" y1="346.9" x2="316.5" y2="346.9" stroke="#222" stroke-width="1" />
<text x="309.7" y="350.6" font-size="10.3" text-anchor="end" font-weight="normal" fill="#000" >0.0</text>
<line x1="314.7" y1="307.75" x2="316.5" y2="307.75" stroke="#222" stroke-width="1" />
<text x="309.7" y="311.45" font-size="10.3" text-anchor="end" font-weight="normal" fill="#000" >0.2</text>
<line x1="314.7" y1="268.6" x2="316.5" y2="268.6" stroke="#222" stroke-width="1" />
<text x="309.7" y="272.3" font-size="10.3" text-anchor="end" font-weight="normal" fill="#000" >0.4</text>
<line x1="314.7" y1="229.45" x2="316.5" y2="229.45" stroke="#222" stroke-width="1" />
<text x="309.7" y="233.15" font-size="10.3" text-anchor="end" font-weight="normal" fill="#000" >0.6</text>
<text x="405.9" y="381" font-size="11.5" text-anchor="middle" font-weight="normal" fill="#000" >Polymer Size</text>
<text transform="translate(284.9,284.4) rotate(-90)" font-size="11.6" text-anchor="middle" fill="#000">Terminal A<tspan font-size="7.6" dy="3.4">405</tspan></text>
</svg>
</body></html>
